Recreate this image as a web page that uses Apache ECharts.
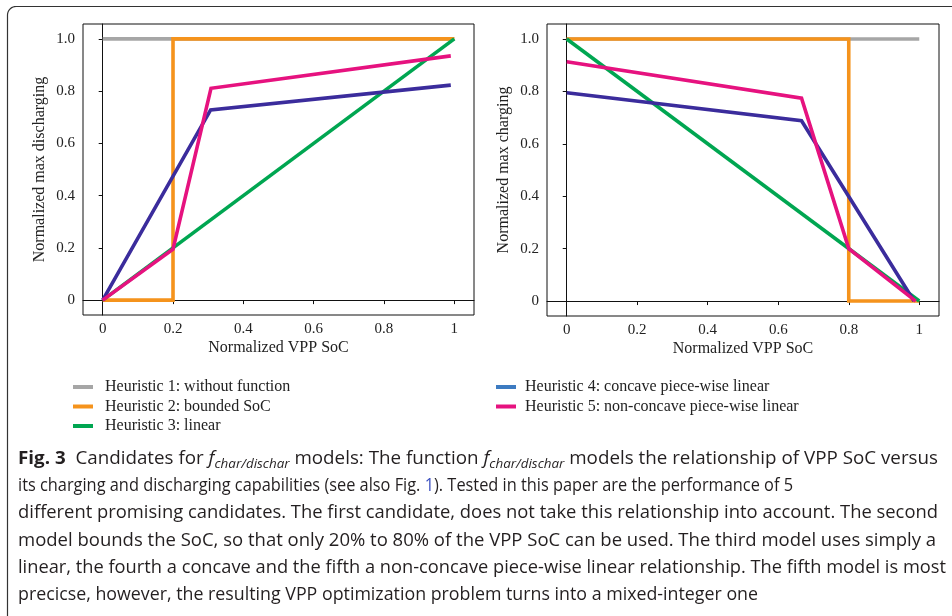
<!DOCTYPE html>
<html>
<head>
<meta charset="utf-8">
<script src="https://cdn.jsdelivr.net/npm/echarts@6/dist/echarts.min.js"></script>
<style>html,body{margin:0;padding:0;background:#fff;}#c{width:952px;height:616px;}</style>
</head>
<body>
<div id="c"></div>
<script>
// ---- data ----
const names = [
  'Heuristic 1: without function',
  'Heuristic 2: bounded SoC',
  'Heuristic 3: linear',
  'Heuristic 4: concave piece-wise linear',
  'Heuristic 5: non-concave piece-wise linear'
];
const tickValues = [0, 0.2, 0.4, 0.6, 0.8, 1];
const xTickLabels = ['0', '0.2', '0.4', '0.6', '0.8', '1'];
const yTickLabels = ['0', '0.2', '0.4', '0.6', '0.8', '1.0'];

// discharging (left)
const h1DisX = [0, 1],                h1DisY = [1, 1];
const h2DisX = [0, 0.2, 0.2, 1],      h2DisY = [0, 0, 1, 1];
const h3DisX = [0, 1],                h3DisY = [0, 1];
const h4DisX = [0, 0.307, 0.99],      h4DisY = [0, 0.728, 0.823];
const h5DisX = [0, 0.2, 0.308, 0.99], h5DisY = [0, 0.195, 0.811, 0.935];
// charging (right)
const h1ChaX = [0, 1],                h1ChaY = [1, 1];
const h2ChaX = [0, 0.8, 0.8, 1],      h2ChaY = [1, 1, 0, 0];
const h3ChaX = [0, 1],                h3ChaY = [1, 0];
const h4ChaX = [0, 0.666, 0.985],     h4ChaY = [0.795, 0.688, 0];
const h5ChaX = [0, 0.666, 0.8, 0.99], h5ChaY = [0.913, 0.774, 0.2, 0];

// caption: segments [text, style]
const caption = [
  [['Fig. 3', 'b'], ['  Candidates for ', 'n'], ['f', 'i'], ['char/dischar', 's'], [' models: The function ', 'n'], ['f', 'i'], ['char/dischar', 's'], [' models the relationship of VPP SoC versus', 'n']],
  [['its charging and discharging capabilities (see also Fig. ', 'n'], ['1', 'l'], ['). Tested in this paper are the performance of 5', 'n']],
  [['different promising candidates. The first candidate, does not take this relationship into account. The second', 'n']],
  [['model bounds the SoC, so that only 20% to 80% of the VPP SoC can be used. The third model uses simply a', 'n']],
  [['linear, the fourth a concave and the fifth a non-concave piece-wise linear relationship. The fifth model is most', 'n']],
  [['precicse, however, the resulting VPP optimization problem turns into a mixed-integer one', 'n']]
];

// ---- styling ----
const colors = ['#a6a6a6', '#f5931c', '#00a651', '#3b2c9c', '#e6127f'];
const legendBlue = '#3d7bc1';
const serif = 'Liberation Serif';
const capFont = 'Open Sans';
const capSize = 17.5;
const capLineEnds = [938, 793, 938, 936, 946, 758];
const capLineY = [459, 486, 513, 541, 568, 595];

function zip(xs, ys) { return xs.map((x, i) => [x, ys[i]]); }

const leftData = [zip(h1DisX, h1DisY), zip(h2DisX, h2DisY), zip(h3DisX, h3DisY), zip(h4DisX, h4DisY), zip(h5DisX, h5DisY)];
const rightData = [zip(h1ChaX, h1ChaY), zip(h2ChaX, h2ChaY), zip(h3ChaX, h3ChaY), zip(h4ChaX, h4ChaY), zip(h5ChaX, h5ChaY)];

const series = [];
[leftData, rightData].forEach((set, gi) => {
  set.forEach((d, si) => {
    series.push({
      type: 'line', name: names[si], xAxisIndex: gi, yAxisIndex: gi,
      data: d, symbol: 'none', color: colors[si],
      lineStyle: { width: 3.6, color: colors[si], cap: 'butt', join: 'miter' },
      z: 2 + si, animation: false, silent: true
    });
  });
});

function xAxis(gi) {
  return {
    type: 'value', gridIndex: gi, min: -0.056, max: 1.056,
    name: 'Normalized VPP SoC', nameLocation: 'middle', nameGap: 25,
    nameTextStyle: { fontFamily: serif, fontSize: 16, color: '#222' },
    axisLine: { show: true, lineStyle: { color: '#111', width: 1 } },
    axisTick: { show: true, length: 4, customValues: tickValues, lineStyle: { color: '#111' } },
    axisLabel: { customValues: tickValues, margin: 7, fontFamily: serif, fontSize: 15, color: '#222',
      formatter: v => xTickLabels[tickValues.findIndex(t => Math.abs(t - v) < 1e-9)] },
    splitLine: { show: false }
  };
}
function yAxis(gi, title) {
  return {
    type: 'value', gridIndex: gi, min: -0.057, max: 1.057,
    name: title, nameLocation: 'middle', nameGap: 35,
    nameTextStyle: { fontFamily: serif, fontSize: 16, color: '#222' },
    axisLine: { show: true, lineStyle: { color: '#111', width: 1 } },
    axisTick: { show: true, length: 4, customValues: tickValues, lineStyle: { color: '#111' } },
    axisLabel: { customValues: tickValues, margin: 8, fontFamily: serif, fontSize: 15, color: '#222',
      formatter: v => yTickLabels[tickValues.findIndex(t => Math.abs(t - v) < 1e-9)] },
    splitLine: { show: false }
  };
}

// caption layout
const segStyle = {
  n: { size: capSize, weight: 'normal', style: 'normal', fill: '#231f20', dy: 0 },
  b: { size: capSize, weight: 'bold', style: 'normal', fill: '#231f20', dy: 0 },
  i: { size: capSize, weight: 'normal', style: 'italic', fill: '#231f20', dy: 0 },
  s: { size: 12.5, weight: 'normal', style: 'italic', fill: '#231f20', dy: 5 },
  l: { size: capSize, weight: 'normal', style: 'normal', fill: '#3a4fc0', dy: 0 }
};
const ctx = document.createElement('canvas').getContext('2d');
function fontStr(st) { return st.style + ' ' + st.weight + ' ' + st.size + 'px "' + capFont + '"'; }
function measure(t, st) { ctx.font = fontStr(st); return ctx.measureText(t).width; }
const graphics = [];
caption.forEach((line, k) => {
  const total = line.reduce((s, [t, sk]) => s + measure(t, segStyle[sk]), 0);
  const sc = (capLineEnds[k] - 18) / total;
  let x = 18;
  line.forEach(([t, sk]) => {
    const st = segStyle[sk];
    graphics.push({
      type: 'text', x: x, y: capLineY[k] + st.dy, scaleX: sc, silent: true,
      style: { text: t, fontFamily: capFont, fontSize: st.size, fontWeight: st.weight, fontStyle: st.style,
        fill: st.fill, verticalAlign: 'middle', align: 'left' }
    });
    x += measure(t, st) * sc;
  });
});
// rounded frame (top-left corner)
const framePts = [[7.5, 616], [7.5, 15]];
for (let a = 180; a <= 270; a += 10) {
  const r = 8.5, rad = a * Math.PI / 180;
  framePts.push([16 + r * Math.cos(rad), 15 + r * Math.sin(rad)]);
}
framePts.push([952, 6.5]);
graphics.push({ type: 'polyline', silent: true, shape: { points: framePts },
  style: { fill: null, stroke: '#333', lineWidth: 1.2 } });

const legendCommon = {
  orient: 'vertical', icon: 'rect', itemWidth: 20, itemHeight: 4, itemGap: 3.5, padding: 0,
  selectedMode: false
};

const option = {
  backgroundColor: '#fff',
  animation: false,
  grid: [
    { left: 83, top: 24, width: 391, height: 291, show: true, borderColor: '#111', borderWidth: 1, backgroundColor: 'transparent' },
    { left: 547, top: 24, width: 392, height: 292, show: true, borderColor: '#111', borderWidth: 1, backgroundColor: 'transparent' }
  ],
  xAxis: [xAxis(0), xAxis(1)],
  yAxis: [yAxis(0, 'Normalized max discharging'), yAxis(1, 'Normalized max charging')],
  legend: [
    Object.assign({}, legendCommon, { left: 73, top: 379, data: [names[0], names[1], names[2]],
      textStyle: { fontFamily: serif, fontSize: 16, color: '#222', padding: [0, 0, 0, 7] } }),
    Object.assign({}, legendCommon, { left: 496, top: 379, data: [{ name: names[3], itemStyle: { color: legendBlue } }, names[4]],
      textStyle: { fontFamily: serif, fontSize: 16, color: '#222', padding: [0, 0, 0, 4] } })
  ],
  series: series,
  graphic: graphics
};

const chart = echarts.init(document.getElementById('c'), null, { renderer: 'canvas' });
chart.setOption(option);
</script>
</body>
</html>
